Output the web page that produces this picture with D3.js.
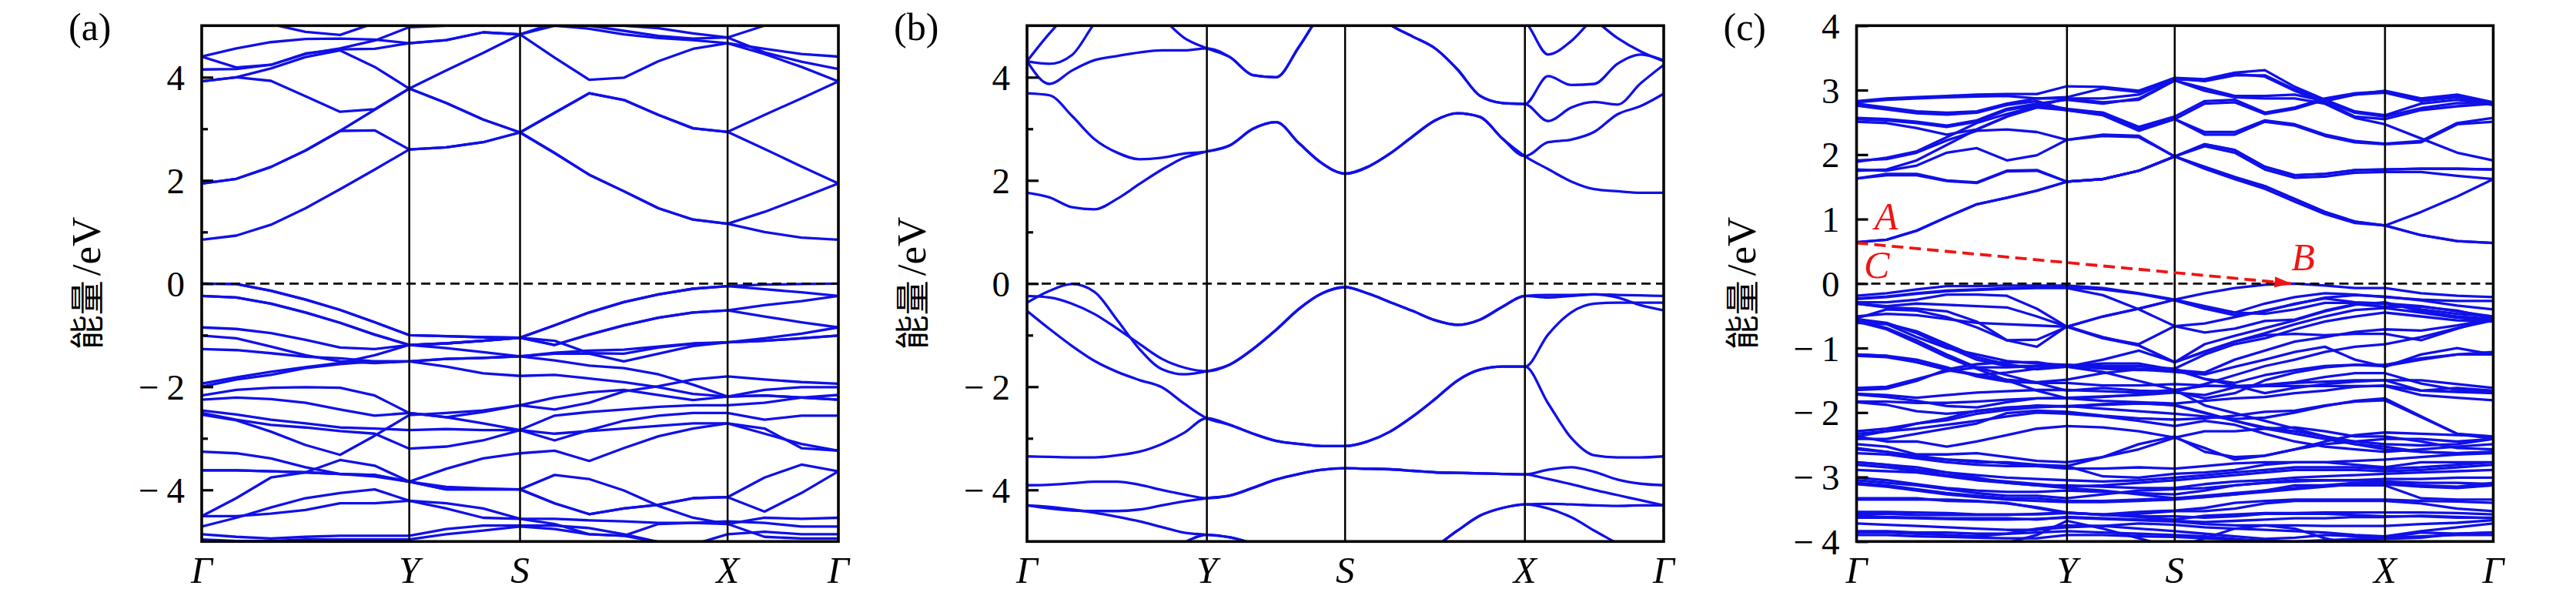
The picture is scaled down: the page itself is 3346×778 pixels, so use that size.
<!DOCTYPE html>
<html><head><meta charset="utf-8">
<script src="https://cdn.jsdelivr.net/npm/d3@7"></script>
<style>html,body{margin:0;padding:0;background:#fff;} svg{display:block;}</style>
</head><body>
<svg id="chart" width="3346" height="778"></svg>
<script>
// ---------------- DATA ----------------
const kLabels = ["Γ", "Y", "S", "X", "Γ"];
// cumulative k-distance (fraction of path) of high-symmetry points, and k-steps per segment
const hsA = [0, 0.326, 0.5, 0.826, 1];      const segA = [6, 3, 6, 3];
const hsB = [0, 0.2825, 0.4996, 0.782, 1];  const segB = [8, 6, 8, 6];
const hsC = [0, 0.3305, 0.4997, 0.830, 1];  const segC = [7, 3, 7, 3];

const yTicksAB = [-4, -2, 0, 2, 4];
const yMinorAB = [-3, -1, 1, 3];
const yTicksC = [-4, -3, -2, -1, 0, 1, 2, 3, 4];

// ---- panel (a) bands (eV), 19 k-points ----
const bandsA = [
 [0.85,0.93,1.14,1.46,1.83,2.21,2.60, 2.64,2.74,2.93, 2.53,2.11,1.79,1.46,1.24,1.16, 1.00,0.89,0.85],
 [1.94,2.03,2.26,2.58,2.96,2.97,2.60, 2.64,2.74,2.93, 2.53,2.11,1.79,1.46,1.24,1.16, 1.39,1.66,1.94],
 [1.94,2.03,2.26,2.58,2.96,3.37,3.78, 4.13,4.47,4.83, 4.38,3.95,3.99,4.31,4.55,4.66, 4.45,4.20,3.92],
 [3.92,4.00,3.93,3.63,3.33,3.38,3.78, 3.50,3.18,2.93, 3.31,3.69,3.56,3.27,3.01,2.94, 3.27,3.59,3.92],
 [3.92,4.00,4.17,4.39,4.52,4.20,3.78, 3.50,3.18,2.93, 3.31,3.69,3.56,3.27,3.01,2.94, 2.61,2.27,1.94],
 [4.15,4.16,4.24,4.46,4.54,4.55,4.66, 4.72,4.87,4.83, 5.00,4.94,4.83,4.76,4.72,4.66, 4.55,4.45,4.40],
 [4.40,4.56,4.68,4.74,4.75,4.73,4.66, 4.72,4.87,4.83, 5.05,5.00,4.90,4.80,4.75,4.77, 4.48,4.30,4.16],
 [4.40,4.19,4.24,4.45,4.56,4.71,4.97, 5.00,5.05,5.10, 5.10,5.05,5.00,4.95,4.85,4.77, 5.00,5.15,5.30],
 [5.30,5.20,5.03,4.88,4.82,5.05,5.20, 5.30,5.30,5.30, 5.30,5.30,5.30,5.30,5.30,5.30, 5.30,5.30,5.30],
 [0.00,-0.01,-0.14,-0.31,-0.51,-0.75,-1.00, -1.02,-1.04,-1.05, -0.81,-0.56,-0.36,-0.21,-0.10,-0.05, -0.02,-0.01,0.00],
 [0.00,-0.01,-0.14,-0.31,-0.51,-0.75,-1.00, -1.02,-1.04,-1.05, -0.81,-0.56,-0.36,-0.21,-0.10,-0.05, -0.11,-0.17,-0.24],
 [-0.24,-0.27,-0.39,-0.56,-0.76,-0.99,-1.19, -1.16,-1.11,-1.05, -1.19,-0.99,-0.81,-0.66,-0.56,-0.52, -0.42,-0.34,-0.24],
 [-0.24,-0.27,-0.39,-0.56,-0.76,-0.99,-1.19, -1.16,-1.11,-1.05, -1.19,-0.99,-0.81,-0.66,-0.56,-0.52, -0.64,-0.75,-0.85],
 [-0.85,-0.88,-0.96,-1.09,-1.24,-1.27,-1.19, -1.16,-1.11,-1.05, -1.11,-1.35,-1.36,-1.24,-1.17,-1.14, -1.06,-0.97,-0.85],
 [-1.01,-1.06,-1.22,-1.39,-1.51,-1.54,-1.51, -1.46,-1.44,-1.41, -1.49,-1.59,-1.64,-1.76,-1.96,-2.19, -2.17,-2.21,-2.25],
 [-1.27,-1.29,-1.35,-1.42,-1.45,-1.51,-1.51, -1.61,-1.74,-1.79, -1.77,-1.84,-1.91,-2.01,-2.14,-2.19, -2.06,-2.01,-2.01],
 [-1.94,-1.82,-1.71,-1.62,-1.54,-1.39,-1.19, -1.25,-1.33,-1.41, -1.34,-1.30,-1.28,-1.22,-1.16,-1.14, -1.11,-1.06,-1.01],
 [-2.00,-1.86,-1.77,-1.64,-1.56,-1.51,-1.51, -1.46,-1.44,-1.41, -1.36,-1.36,-1.51,-1.36,-1.21,-1.14, -1.11,-1.06,-1.01],
 [-2.17,-2.06,-2.02,-2.01,-2.02,-2.17,-2.51, -2.59,-2.49,-2.36, -2.44,-2.31,-2.09,-1.99,-1.86,-1.80, -1.86,-1.91,-1.94],
 [-2.25,-2.21,-2.24,-2.31,-2.44,-2.56,-2.51, -2.59,-2.71,-2.84, -2.56,-2.49,-2.44,-2.39,-2.36,-2.36, -2.31,-2.21,-2.16],
 [-2.46,-2.54,-2.64,-2.71,-2.79,-2.81,-2.84, -2.82,-2.84,-2.84, -3.04,-2.84,-2.66,-2.56,-2.51,-2.51, -2.64,-2.56,-2.56],
 [-2.51,-2.64,-2.74,-2.79,-2.86,-2.91,-3.20, -3.16,-3.04,-2.84, -2.91,-2.86,-2.81,-2.76,-2.71,-2.71, -2.91,-3.11,-3.24],
 [-2.54,-2.65,-2.87,-3.13,-3.32,-2.95,-2.55, -2.51,-2.46,-2.36, -2.21,-2.11,-2.06,-2.16,-2.26,-2.19, -2.17,-2.21,-2.25],
 [-3.26,-3.29,-3.39,-3.56,-3.69,-3.74,-3.84, -3.59,-3.39,-3.29, -3.24,-3.44,-3.19,-2.96,-2.81,-2.71, -2.81,-3.19,-3.24],
 [-3.62,-3.62,-3.64,-3.66,-3.69,-3.71,-3.84, -3.99,-3.99,-3.99, -4.26,-4.47,-4.36,-4.29,-4.16,-4.14, -3.76,-3.51,-3.64],
 [-3.62,-3.62,-3.64,-3.66,-3.69,-3.71,-3.84, -3.99,-3.99,-3.99, -4.26,-4.47,-4.36,-4.29,-4.16,-4.14, -4.42,-4.06,-3.64],
 [-4.51,-4.16,-3.76,-3.66,-3.42,-3.53,-3.84, -3.94,-3.97,-3.99, -3.71,-3.79,-4.01,-4.31,-4.54,-4.66, -4.54,-4.56,-4.54],
 [-4.71,-4.54,-4.34,-4.16,-4.06,-3.99,-4.21, -4.36,-4.54,-4.56, -4.56,-4.59,-4.61,-4.64,-4.64,-4.61, -4.64,-4.71,-4.71],
 [-4.86,-4.91,-4.94,-4.91,-4.89,-4.89,-4.89, -4.76,-4.69,-4.69, -4.69,-4.74,-4.86,-5.01,-5.06,-4.86, -4.81,-4.86,-4.86],
 [-4.96,-4.99,-4.99,-4.96,-4.96,-4.96,-4.96, -4.86,-4.79,-4.71, -4.76,-4.86,-4.89,-4.66,-4.64,-4.66, -4.91,-4.94,-4.94],
 [-4.51,-4.51,-4.46,-4.39,-4.26,-4.26,-4.21, -4.26,-4.36,-4.56, -4.66,-4.86,-4.89,-5.01,-5.10,-5.20, -5.20,-5.20,-5.20]
];

// ---- panel (b) bands (eV), 29 k-points ----
const bandsB = [
 [1.76,1.67,1.48,1.44,1.64,1.93,2.21,2.44,2.56, 2.68,3.00,3.13,2.72,2.33,2.13, 2.26,2.52,2.85,3.16,3.30,3.23,2.81,2.47, 2.22,1.98,1.83,1.79,1.76,1.76],
 [3.69,3.65,3.25,2.80,2.54,2.41,2.44,2.52,2.56, 2.68,3.00,3.13,2.72,2.33,2.13, 2.26,2.52,2.85,3.16,3.30,3.23,2.81,2.47, 2.74,2.79,2.94,3.28,3.44,3.68],
 [4.31,3.87,4.13,4.33,4.41,4.48,4.52,4.52,4.56, 4.39,4.04,4.00,4.59,5.26,5.60, 5.40,5.02,4.79,4.56,4.15,3.64,3.50,3.48, 3.15,3.41,3.52,3.47,3.88,4.24],
 [4.31,4.26,4.43,5.04,5.50,5.50,5.15,4.76,4.56, 4.39,4.04,4.00,4.59,5.26,5.60, 5.40,5.02,4.79,4.56,4.15,3.64,3.50,3.48, 4.02,3.85,3.87,4.26,4.44,4.33],
 [4.31,4.85,5.30,5.60,5.60,5.60,5.60,5.60,5.60, 5.60,5.60,5.60,5.60,5.60,5.60, 5.60,5.60,5.60,5.50,5.40,5.30,5.20,5.07, 4.44,4.70,5.15,5.40,5.50,5.50],
 [5.60,5.60,5.60,5.60,5.60,5.60,5.60,5.60,5.60, 5.60,5.60,5.60,5.60,5.60,5.60, 5.60,5.60,5.60,5.60,5.60,5.60,5.60,5.60, 5.50,5.30,5.10,4.76,4.50,4.31],
 [-0.37,-0.14,-0.01,-0.16,-0.70,-1.27,-1.66,-1.76,-1.70, -1.57,-1.27,-0.90,-0.49,-0.19,-0.07, -0.19,-0.36,-0.53,-0.71,-0.80,-0.70,-0.45,-0.24, -0.22,-0.22,-0.21,-0.22,-0.23,-0.24],
 [-0.24,-0.27,-0.39,-0.59,-0.87,-1.17,-1.46,-1.63,-1.70, -1.57,-1.27,-0.90,-0.49,-0.19,-0.07, -0.19,-0.36,-0.53,-0.71,-0.80,-0.70,-0.45,-0.24, -0.27,-0.24,-0.21,-0.27,-0.42,-0.52],
 [-0.53,-0.88,-1.21,-1.50,-1.71,-1.87,-2.01,-2.33,-2.61, -2.74,-2.91,-3.05,-3.11,-3.15,-3.15, -3.06,-2.87,-2.58,-2.24,-1.88,-1.67,-1.61,-1.61, -0.99,-0.56,-0.39,-0.37,-0.37,-0.37],
 [-3.35,-3.36,-3.37,-3.37,-3.33,-3.26,-3.11,-2.89,-2.61, -2.74,-2.91,-3.05,-3.11,-3.15,-3.15, -3.06,-2.87,-2.58,-2.24,-1.88,-1.67,-1.61,-1.61, -2.32,-2.99,-3.33,-3.37,-3.37,-3.35],
 [-3.91,-3.90,-3.87,-3.84,-3.84,-3.90,-4.00,-4.09,-4.16, -4.11,-3.96,-3.80,-3.69,-3.61,-3.58, -3.59,-3.60,-3.63,-3.66,-3.67,-3.68,-3.69,-3.70, -3.61,-3.56,-3.65,-3.80,-3.88,-3.91],
 [-4.30,-4.36,-4.40,-4.41,-4.41,-4.38,-4.30,-4.22,-4.16, -4.11,-3.96,-3.80,-3.69,-3.61,-3.58, -3.59,-3.60,-3.63,-3.66,-3.67,-3.68,-3.69,-3.70, -3.79,-3.89,-4.00,-4.10,-4.20,-4.30],
 [-4.30,-4.33,-4.38,-4.44,-4.52,-4.61,-4.72,-4.83,-4.87, -4.92,-5.04,-5.20,-5.30,-5.35,-5.40, -5.40,-5.40,-5.35,-5.10,-4.79,-4.50,-4.35,-4.28, -4.27,-4.28,-4.30,-4.31,-4.30,-4.30],
 [-5.60,-5.60,-5.60,-5.60,-5.60,-5.50,-5.30,-5.02,-4.87, -4.92,-5.04,-5.20,-5.30,-5.35,-5.40, -5.40,-5.40,-5.35,-5.10,-4.79,-4.50,-4.35,-4.28, -4.36,-4.53,-4.79,-5.04,-5.30,-5.40]
];

// ---- panel (c) bands (eV), 21 k-points ----
const bandsC = [
 [0.64,0.68,0.82,1.03,1.23,1.33,1.44,1.58, 1.62,1.75,1.97, 1.81,1.65,1.51,1.31,1.11,0.96,0.90, 0.75,0.66,0.63],
 [0.64,0.68,0.82,1.03,1.23,1.33,1.44,1.58, 1.62,1.75,1.97, 1.78,1.62,1.47,1.27,1.08,0.94,0.90, 0.75,0.66,0.63],
 [1.63,1.68,1.68,1.59,1.56,1.74,1.75,1.58, 1.62,1.75,1.97, 2.16,2.07,1.81,1.68,1.70,1.76,1.77, 1.78,1.78,1.77],
 [1.63,1.70,1.70,1.60,1.57,1.75,1.76,1.58, 1.62,1.75,1.97, 2.13,2.03,1.77,1.64,1.66,1.72,1.73, 1.73,1.67,1.62],
 [1.77,1.75,1.83,2.03,2.10,1.91,1.99,2.23, 2.29,2.27,1.97, 1.81,1.65,1.51,1.31,1.11,0.96,0.90, 1.11,1.35,1.62],
 [1.91,1.93,2.03,2.22,2.37,2.39,2.35,2.23, 2.31,2.29,1.97, 2.16,2.07,1.81,1.68,1.70,1.76,1.77, 1.78,1.78,1.77],
 [1.89,1.95,2.05,2.27,2.49,2.63,2.75,2.87, 2.87,2.93,3.17, 3.15,3.25,3.21,2.99,2.81,2.59,2.55, 2.69,2.75,2.79],
 [1.75,1.77,1.91,2.15,2.39,2.59,2.79,2.85, 2.79,2.87,3.15, 3.03,2.91,2.91,2.93,2.83,2.93,2.99, 2.87,2.93,2.81],
 [2.83,2.87,2.89,2.91,2.93,2.94,2.94,3.06, 3.05,2.99,3.19, 3.17,3.27,3.31,3.05,2.85,2.67,2.61, 2.79,2.85,2.77],
 [2.81,2.85,2.87,2.89,2.90,2.91,2.87,2.89, 3.03,2.97,3.18, 3.14,3.23,3.23,3.01,2.83,2.65,2.59, 2.72,2.80,2.79],
 [2.79,2.73,2.67,2.65,2.67,2.79,2.87,2.87, 2.81,2.85,3.15, 2.99,2.89,2.87,2.87,2.79,2.57,2.47, 2.25,2.03,1.91],
 [2.76,2.70,2.64,2.62,2.65,2.77,2.83,2.69, 2.62,2.39,2.55, 2.35,2.35,2.53,2.47,2.31,2.21,2.17, 2.21,2.49,2.57],
 [2.57,2.55,2.51,2.45,2.53,2.71,2.79,2.71, 2.65,2.43,2.59, 2.83,2.85,2.65,2.73,2.87,2.95,2.98, 2.85,2.91,2.80],
 [2.51,2.49,2.41,2.31,2.39,2.59,2.73,2.69, 2.61,2.37,2.55, 2.31,2.31,2.51,2.45,2.29,2.19,2.16, 2.19,2.47,2.51],
 [2.55,2.53,2.49,2.43,2.51,2.69,2.77,2.69, 2.65,2.41,2.55, 2.79,2.81,2.63,2.71,2.85,2.93,2.96, 2.83,2.89,2.78],
 [-0.19,-0.15,-0.09,-0.04,-0.04,-0.03,-0.03,-0.03, -0.07,-0.15,-0.25, -0.15,-0.07,-0.02,0.00,-0.03,-0.07,-0.07, -0.15,-0.19,-0.21],
 [-0.23,-0.20,-0.15,-0.11,-0.09,-0.07,-0.06,-0.06, -0.09,-0.16,-0.26, -0.39,-0.45,-0.31,-0.21,-0.15,-0.17,-0.21, -0.25,-0.27,-0.27],
 [-0.29,-0.29,-0.25,-0.17,-0.17,-0.19,-0.39,-0.67, -0.51,-0.39,-0.25, -0.39,-0.49,-0.43,-0.31,-0.23,-0.29,-0.31, -0.35,-0.43,-0.51],
 [-0.31,-0.35,-0.31,-0.33,-0.35,-0.37,-0.51,-0.67, -0.83,-0.96,-1.22, -0.94,-0.81,-0.69,-0.57,-0.43,-0.33,-0.29, -0.43,-0.51,-0.55],
 [-0.55,-0.61,-0.77,-0.98,-1.18,-1.28,-1.28,-1.28, -1.32,-1.34,-1.34, -1.38,-1.18,-1.04,-0.90,-0.83,-0.75,-0.71, -0.73,-0.65,-0.55],
 [-0.57,-0.69,-0.88,-1.10,-1.30,-1.42,-1.54,-1.66, -1.62,-1.66,-1.68, -1.56,-1.42,-1.28,-1.18,-1.06,-0.98,-0.94, -0.83,-0.69,-0.57],
 [-0.59,-0.71,-0.92,-1.14,-1.32,-1.50,-1.66,-1.78, -1.76,-1.72,-1.68, -1.78,-1.70,-1.50,-1.38,-1.30,-1.26,-1.28, -1.18,-1.10,-1.06],
 [-0.61,-0.63,-0.83,-1.00,-1.10,-1.20,-1.24,-1.26, -1.30,-1.32,-1.32, -1.48,-1.58,-1.70,-1.62,-1.56,-1.52,-1.50, -1.66,-1.62,-1.66],
 [-0.51,-0.47,-0.49,-0.55,-0.61,-0.63,-0.65,-0.67, -0.85,-0.96,-1.22, -1.06,-0.90,-0.77,-0.63,-0.51,-0.41,-0.38, -0.45,-0.53,-0.57],
 [-1.10,-1.12,-1.18,-1.30,-1.44,-1.52,-1.54,-1.54, -1.58,-1.58,-1.56, -1.58,-1.60,-1.58,-1.54,-1.52,-1.50,-1.50, -1.50,-1.56,-1.62],
 [-1.12,-1.14,-1.22,-1.34,-1.42,-1.38,-1.32,-1.28, -1.24,-1.24,-1.34, -1.48,-1.54,-1.42,-1.34,-1.28,-1.26,-1.26, -1.16,-1.10,-1.10],
 [-1.62,-1.60,-1.48,-1.36,-1.30,-1.30,-1.28,-1.26, -1.28,-1.28,-1.32, -1.10,-0.94,-0.85,-0.71,-0.59,-0.51,-0.45, -0.51,-0.57,-0.59],
 [-1.72,-1.76,-1.82,-1.90,-1.92,-1.84,-1.78,-1.78, -1.82,-1.84,-1.86, -1.82,-1.78,-1.76,-1.70,-1.66,-1.60,-1.58, -1.66,-1.68,-1.70],
 [-1.84,-1.88,-1.98,-2.02,-1.98,-1.92,-1.90,-1.90, -1.94,-1.98,-2.02, -2.06,-2.10,-2.08,-2.00,-1.90,-1.82,-1.78, -2.06,-2.33,-2.41],
 [-2.29,-2.25,-2.17,-2.12,-2.02,-1.96,-1.92,-1.90, -1.88,-1.86,-1.88, -2.00,-2.13,-2.23,-2.29,-2.37,-2.45,-2.49, -2.51,-2.49,-2.41],
 [-2.33,-2.29,-2.25,-2.19,-2.13,-2.06,-2.00,-2.02, -2.06,-2.13,-2.21, -2.13,-2.19,-2.33,-2.45,-2.53,-2.57,-2.61, -2.57,-2.53,-2.49],
 [-2.37,-2.45,-2.45,-2.53,-2.45,-2.35,-2.25,-2.21, -2.23,-2.29,-2.39, -2.55,-2.73,-2.67,-2.57,-2.45,-2.35,-2.31, -2.33,-2.35,-2.37],
 [-2.49,-2.53,-2.65,-2.65,-2.63,-2.69,-2.75,-2.77, -2.69,-2.57,-2.39, -2.29,-2.29,-2.25,-2.23,-2.29,-2.37,-2.37, -2.45,-2.55,-2.57],
 [-2.55,-2.61,-2.69,-2.73,-2.75,-2.79,-2.83,-2.87, -2.87,-2.85,-2.87, -2.83,-2.79,-2.77,-2.77,-2.77,-2.75,-2.73, -2.69,-2.65,-2.63],
 [-2.77,-2.81,-2.85,-2.93,-2.97,-3.01,-3.03,-3.05, -3.07,-3.05,-3.01, -2.97,-2.93,-2.89,-2.85,-2.85,-2.85,-2.87, -2.85,-2.81,-2.77],
 [-2.89,-2.91,-2.93,-2.99,-3.05,-3.09,-3.13,-3.13, -3.15,-3.17,-3.17, -3.11,-3.07,-3.05,-3.01,-2.99,-2.97,-2.95, -2.93,-2.91,-2.89],
 [-3.01,-3.05,-3.11,-3.17,-3.21,-3.23,-3.23,-3.21, -3.23,-3.25,-3.27, -3.21,-3.13,-3.09,-3.07,-3.05,-3.05,-3.03, -3.03,-3.01,-3.01],
 [-3.09,-3.13,-3.19,-3.25,-3.29,-3.33,-3.33,-3.37, -3.37,-3.35,-3.33, -3.29,-3.25,-3.21,-3.17,-3.13,-3.09,-3.09, -3.13,-3.15,-3.09],
 [-3.33,-3.33,-3.33,-3.37,-3.38,-3.40,-3.48,-3.56, -3.58,-3.54,-3.52, -3.48,-3.40,-3.37,-3.35,-3.35,-3.35,-3.35, -3.37,-3.38,-3.40],
 [-3.54,-3.54,-3.55,-3.56,-3.58,-3.58,-3.58,-3.56, -3.58,-3.62,-3.66, -3.60,-3.58,-3.56,-3.56,-3.55,-3.55,-3.55, -3.55,-3.56,-3.58],
 [-3.60,-3.62,-3.63,-3.64,-3.64,-3.64,-3.66,-3.62, -3.64,-3.66,-3.68, -3.70,-3.68,-3.66,-3.64,-3.64,-3.62,-3.62, -3.60,-3.62,-3.64],
 [-3.72,-3.74,-3.76,-3.78,-3.80,-3.82,-3.82,-3.78, -3.76,-3.72,-3.74, -3.78,-3.80,-3.82,-3.84,-3.86,-3.90,-3.92, -3.84,-3.78,-3.72],
 [-3.84,-3.84,-3.86,-3.86,-3.88,-3.88,-3.86,-3.84, -3.86,-3.88,-3.90, -3.92,-3.96,-4.00,-4.02,-4.00,-3.98,-3.96, -3.94,-3.88,-3.86],
 [-0.31,-0.37,-0.39,-0.43,-0.59,-0.88,-0.87,-0.67, -0.51,-0.39,-0.25, -0.35,-0.45,-0.47,-0.40,-0.30,-0.30,-0.31, -0.40,-0.47,-0.51],
 [-4.20,-4.20,-4.15,-4.10,-4.05,-4.02,-3.90,-3.68, -3.80,-3.95,-4.10, -3.95,-3.80,-3.75,-3.80,-3.95,-4.05,-4.10, -4.00,-4.10,-4.20],
 [-3.35,-3.35,-3.35,-3.35,-3.37,-3.41,-3.47,-3.55, -3.59,-3.57,-3.53, -3.53,-3.49,-3.41,-3.37,-3.37,-3.37,-3.37, -3.41,-3.49,-3.53],
 [-3.57,-3.57,-3.59,-3.59,-3.59,-3.59,-3.57,-3.55, -3.59,-3.61,-3.61, -3.63,-3.61,-3.57,-3.57,-3.57,-3.59,-3.61, -3.61,-3.63,-3.63],
 [-3.63,-3.63,-3.64,-3.65,-3.66,-3.66,-3.65,-3.63, -3.65,-3.67,-3.69, -3.73,-3.75,-3.75,-3.75,-3.76,-3.76,-3.76, -3.73,-3.71,-3.67],
 [-3.86,-3.86,-3.88,-3.90,-3.92,-3.88,-3.80,-3.75, -3.76,-3.80,-3.84, -3.88,-3.92,-3.96,-3.94,-3.90,-3.92,-3.94, -3.86,-3.88,-3.86],
 [-3.05,-3.09,-3.13,-3.19,-3.25,-3.29,-3.29,-3.33, -3.27,-3.21,-3.19, -3.17,-3.13,-3.09,-3.05,-3.05,-3.05,-3.07, -3.09,-3.09,-3.11],
 [-2.77,-2.81,-2.89,-2.93,-3.01,-3.09,-3.13,-3.17, -3.21,-3.27,-3.33, -3.31,-3.27,-3.21,-3.13,-3.13,-3.13,-3.13, -3.33,-3.35,-3.35],
 [-2.57,-2.61,-2.67,-2.73,-2.77,-2.77,-2.81,-2.83, -2.99,-3.01,-2.95, -2.93,-2.89,-2.81,-2.77,-2.77,-2.81,-2.85, -2.77,-2.77,-2.77],
 [-2.63,-2.65,-2.71,-2.77,-2.81,-2.83,-2.83,-2.83, -2.69,-2.49,-2.37, -2.61,-2.69,-2.67,-2.57,-2.49,-2.45,-2.41, -2.41,-2.45,-2.41],
 [-2.37,-2.29,-2.17,-2.09,-1.97,-1.93,-1.89,-1.91, -1.87,-1.85,-1.89, -2.01,-2.13,-2.25,-2.33,-2.41,-2.49,-2.53, -2.61,-2.63,-2.61],
 [-2.41,-2.41,-2.33,-2.25,-2.17,-2.01,-1.97,-1.99, -2.05,-2.09,-2.11, -2.09,-2.05,-1.99,-1.97,-1.89,-1.83,-1.81, -2.07,-2.33,-2.37],
 [-1.65,-1.63,-1.51,-1.33,-1.25,-1.22,-1.22,-1.29, -1.37,-1.51,-1.65, -1.89,-2.01,-2.13,-2.25,-2.37,-2.49,-2.57, -2.61,-2.63,-2.61],
 [-1.10,-1.12,-1.22,-1.33,-1.41,-1.49,-1.53,-1.49, -1.39,-1.33,-1.37, -1.41,-1.29,-1.18,-1.06,-0.98,-1.18,-1.29, -1.10,-1.00,-1.10],
 [-0.54,-0.40,-0.42,-0.52,-0.68,-0.88,-0.98,-0.66, -0.84,-0.94,-0.66, -0.76,-0.70,-0.58,-0.56,-0.42,-0.32,-0.36, -0.36,-0.42,-0.54],
 [-0.24,-0.21,-0.16,-0.12,-0.10,-0.08,-0.07,-0.07, -0.18,-0.40,-0.66, -0.62,-0.52,-0.42,-0.32,-0.22,-0.18,-0.20, -0.26,-0.34,-0.40],
 [-0.58,-0.62,-0.74,-0.94,-1.14,-1.25,-1.33,-1.29, -1.18,-1.04,-1.22, -1.05,-0.90,-0.80,-0.78,-0.80,-0.78,-0.78, -0.88,-0.70,-0.54],
 [-1.71,-1.73,-1.77,-1.73,-1.69,-1.67,-1.65,-1.65, -1.67,-1.69,-1.65, -1.59,-1.59,-1.57,-1.53,-1.45,-1.39,-1.39, -1.55,-1.65,-1.67],
 [-1.83,-1.83,-1.85,-1.85,-1.83,-1.80,-1.78,-1.77, -1.75,-1.73,-1.69, -1.73,-1.61,-1.59,-1.59,-1.59,-1.59,-1.59, -1.73,-1.77,-1.81],
 [-2.81,-2.85,-2.91,-2.97,-3.03,-3.07,-3.11,-3.15, -3.13,-3.09,-3.05, -3.01,-2.97,-2.93,-2.89,-2.89,-2.89,-2.91, -2.89,-2.85,-2.81],
 [-3.11,-3.15,-3.21,-3.27,-3.31,-3.35,-3.37,-3.39, -3.39,-3.37,-3.35, -3.31,-3.27,-3.23,-3.19,-3.15,-3.11,-3.11, -3.15,-3.17,-3.13],
 [-3.90,-3.90,-3.92,-3.93,-3.94,-3.95,-3.95,-3.90, -3.90,-3.92,-3.93, -3.95,-3.97,-3.99,-4.00,-3.98,-3.96,-3.94, -3.92,-3.90,-3.90]
];

// indirect-gap annotation in (c): arrow from A (Γ, CBM) to B (VBM on S–X)
const arrowC = { k0: 0, e0: 0.63, k1: 0.683, e1: 0.0 };
const annotC = [ { t: "A", k: 0.028, e: 0.84 }, { t: "C", k: 0.0115, e: 0.087 }, { t: "B", k: 0.683, e: 0.207 } ];

// ---------------- DRAWING ----------------
const svg = d3.select("#chart");
const TOP = 33.3, BOT = 703.3, PW = 827;
const BLUE = "#1010e8";
const SERIF = "'Liberation Serif','Times New Roman',serif";

function kGrid(hs, seg) {
  const out = [];
  for (let s = 0; s < seg.length; s++) {
    const n = seg[s];
    for (let j = (s === 0 ? 0 : 1); j <= n; j++) out.push(hs[s] + (hs[s + 1] - hs[s]) * j / n);
  }
  return out;
}

const panels = [
  { id: "a", left: 262,    hs: hsA, seg: segA, bands: bandsA, dom: [-5, 5], major: yTicksAB, minor: yMinorAB, curve: d3.curveLinear, label: "(a)" },
  { id: "b", left: 1334,   hs: hsB, seg: segB, bands: bandsB, dom: [-5, 5], major: yTicksAB, minor: yMinorAB, curve: d3.curveMonotoneX, label: "(b)" },
  { id: "c", left: 2411.5, hs: hsC, seg: segC, bands: bandsC, dom: [-4, 4], major: yTicksC,  minor: [],       curve: d3.curveLinear, label: "(c)" }
];

const defs = svg.append("defs");
defs.append("marker").attr("id", "arrowRed")
  .attr("markerUnits", "userSpaceOnUse").attr("markerWidth", 24).attr("markerHeight", 16)
  .attr("refX", 22).attr("refY", 7).attr("orient", "auto")
  .append("path").attr("d", "M0,0 L22,7 L0,14 Z").attr("fill", "#f01414");

panels.forEach(p => {
  const x = d3.scaleLinear().domain([0, 1]).range([p.left, p.left + PW]);
  const y = d3.scaleLinear().domain(p.dom).range([BOT, TOP]);
  const k = kGrid(p.hs, p.seg);
  const g = svg.append("g");

  defs.append("clipPath").attr("id", "clip-" + p.id)
    .append("rect").attr("x", p.left).attr("y", TOP).attr("width", PW).attr("height", BOT - TOP);

  // bands
  const line = d3.line().x((d, i) => x(k[i])).y(d => y(d)).curve(p.curve);
  g.append("g").attr("clip-path", `url(#clip-${p.id})`)
    .selectAll("path").data(p.bands).join("path")
    .attr("d", line).attr("fill", "none").attr("stroke", BLUE)
    .attr("stroke-width", 3.3).attr("stroke-linejoin", "round").attr("stroke-linecap", "round");

  // high-symmetry vertical lines
  g.selectAll("line.hs").data(p.hs.slice(1, -1)).join("line")
    .attr("x1", d => x(d)).attr("x2", d => x(d)).attr("y1", TOP).attr("y2", BOT)
    .attr("stroke", "#000").attr("stroke-width", 2.5);

  // Fermi level
  g.append("line").attr("x1", x(0)).attr("x2", x(1)).attr("y1", y(0)).attr("y2", y(0))
    .attr("stroke", "#000").attr("stroke-width", 2.8).attr("stroke-dasharray", "12,7");

  // annotation in (c)
  if (p.id === "c") {
    g.append("line")
      .attr("x1", x(arrowC.k0)).attr("y1", y(arrowC.e0))
      .attr("x2", x(arrowC.k1)).attr("y2", y(arrowC.e1))
      .attr("stroke", "#f01414").attr("stroke-width", 3.8).attr("stroke-dasharray", "15,8")
      .attr("marker-end", "url(#arrowRed)");
    g.selectAll("text.ann").data(annotC).join("text")
      .attr("x", d => x(d.k)).attr("y", d => y(d.e))
      .attr("font-family", SERIF).attr("font-style", "italic").attr("font-size", 50)
      .attr("fill", "#f01414").text(d => d.t);
  }

  // frame
  g.append("rect").attr("x", p.left).attr("y", TOP).attr("width", PW).attr("height", BOT - TOP)
    .attr("fill", "none").attr("stroke", "#000").attr("stroke-width", 3.6);

  // y axis (inward ticks)
  const ax = g.append("g").attr("transform", `translate(${p.left},0)`)
    .call(d3.axisLeft(y).tickValues(p.major).tickSize(-15).tickPadding(22).tickFormat(d => d));
  ax.attr("font-family", SERIF);
  ax.select(".domain").remove();
  ax.selectAll(".tick line").attr("stroke", "#000").attr("stroke-width", 3.2);
  ax.selectAll(".tick text").each(function (d) {
    const t = d3.select(this);
    t.text(null).attr("font-family", SERIF).attr("font-size", 47).attr("fill", "#000").attr("dy", "0.34em");
    if (d < 0) { t.append("tspan").text("\u2212"); t.append("tspan").attr("dx", 10).text(Math.abs(d)); }
    else t.append("tspan").text(d);
  });
  if (p.minor.length) {
    const mx = g.append("g").attr("transform", `translate(${p.left},0)`)
      .call(d3.axisLeft(y).tickValues(p.minor).tickSize(-8).tickFormat(""));
    mx.select(".domain").remove();
    mx.selectAll(".tick line").attr("stroke", "#000").attr("stroke-width", 3.2);
  }

  // k-point labels
  g.selectAll("text.kl").data(p.hs).join("text")
    .attr("x", d => x(d)).attr("y", 757).attr("text-anchor", "middle")
    .attr("font-family", SERIF).attr("font-style", "italic").attr("font-size", 49)
    .text((d, i) => kLabels[i]);

  // y title
  const tt = g.append("text").attr("transform", `translate(${p.left - 132},${368}) rotate(-90)`)
    .attr("text-anchor", "middle");
  tt.append("tspan").attr("font-family", "'Noto Sans CJK SC','Noto Sans CJK JP',sans-serif").attr("font-size", 45).text("能量");
  tt.append("tspan").attr("font-family", SERIF).attr("font-size", 53).attr("dx", 6).text("/eV");

  // panel label
  g.append("text").attr("x", p.left - 173).attr("y", 52)
    .attr("font-family", SERIF).attr("font-size", 50).text(p.label);
});
</script>
</body></html>
